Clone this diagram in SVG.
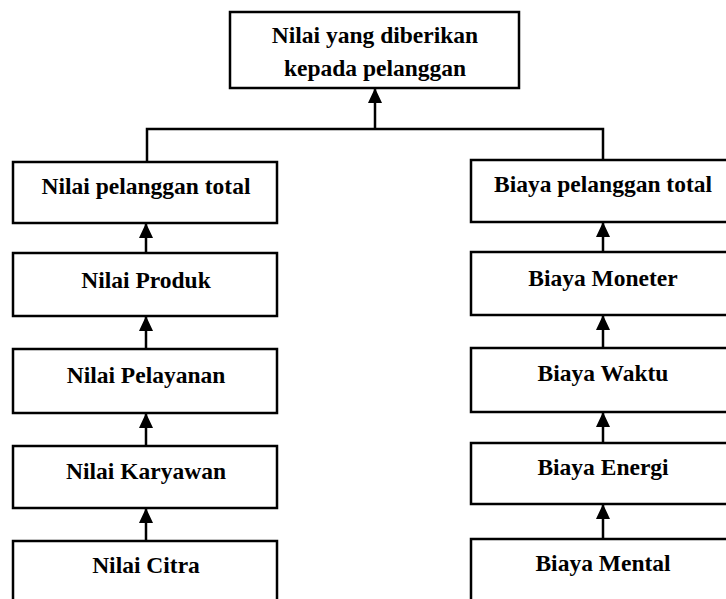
<svg xmlns="http://www.w3.org/2000/svg" width="726" height="599" viewBox="0 0 726 599">
  <style>
    .box { fill: #ffffff; stroke: #000000; stroke-width: 2.5; }
    .lbl { font-family: "Liberation Serif", "Times New Roman", serif; font-weight: bold; font-size: 23.5px; fill: #000000; text-anchor: middle; }
    .link { fill: none; stroke: #000000; stroke-width: 2.5; }
  </style>
  <defs>
    <!-- filled triangular arrowhead, tip at the end of the line -->
    <marker id="head" viewBox="0 0 15 14" refX="14" refY="7" markerWidth="15" markerHeight="14" markerUnits="userSpaceOnUse" orient="auto">
      <path d="M0,0 L15,7 L0,14 Z" fill="#000000"/>
    </marker>
  </defs>
  <rect width="726" height="599" fill="#ffffff"/>

  <!-- root -->
  <g id="nilai-diberikan">
    <rect class="box" x="230" y="12" width="289" height="76"/>
    <text class="lbl" x="375" y="43">Nilai yang diberikan</text>
    <text class="lbl" x="375" y="76">kepada pelanggan</text>
  </g>

  <!-- left column: value -->
  <g id="nilai-pelanggan-total">
    <rect class="box" x="13" y="162" width="264" height="61"/>
    <text class="lbl" x="146" y="194">Nilai pelanggan total</text>
  </g>
  <g id="nilai-produk">
    <rect class="box" x="13" y="253" width="264" height="63"/>
    <text class="lbl" x="146" y="288">Nilai Produk</text>
  </g>
  <g id="nilai-pelayanan">
    <rect class="box" x="13" y="349" width="264" height="64"/>
    <text class="lbl" x="146" y="383">Nilai Pelayanan</text>
  </g>
  <g id="nilai-karyawan">
    <rect class="box" x="13" y="446" width="264" height="62"/>
    <text class="lbl" x="146" y="479">Nilai Karyawan</text>
  </g>
  <g id="nilai-citra">
    <rect class="box" x="13" y="541" width="264" height="80"/>
    <text class="lbl" x="146" y="573">Nilai Citra</text>
  </g>

  <!-- right column: cost -->
  <g id="biaya-pelanggan-total">
    <rect class="box" x="471" y="160" width="264" height="62"/>
    <text class="lbl" x="603" y="192">Biaya pelanggan total</text>
  </g>
  <g id="biaya-moneter">
    <rect class="box" x="471" y="252" width="264" height="63"/>
    <text class="lbl" x="603" y="286">Biaya Moneter</text>
  </g>
  <g id="biaya-waktu">
    <rect class="box" x="471" y="348" width="264" height="64"/>
    <text class="lbl" x="603" y="381">Biaya Waktu</text>
  </g>
  <g id="biaya-energi">
    <rect class="box" x="471" y="443" width="264" height="61"/>
    <text class="lbl" x="603" y="475">Biaya Energi</text>
  </g>
  <g id="biaya-mental">
    <rect class="box" x="471" y="539" width="264" height="80"/>
    <text class="lbl" x="603" y="571">Biaya Mental</text>
  </g>

  <!-- connectors -->
  <g id="connectors">
    <path class="link" d="M147,162 V129 H603 V160"/>
    <path class="link" d="M375,129 V89" marker-end="url(#head)"/>
    <path class="link" d="M146,253 V224" marker-end="url(#head)"/>
    <path class="link" d="M146,349 V317" marker-end="url(#head)"/>
    <path class="link" d="M146,446 V414" marker-end="url(#head)"/>
    <path class="link" d="M146,541 V509" marker-end="url(#head)"/>
    <path class="link" d="M603,252 V223" marker-end="url(#head)"/>
    <path class="link" d="M603,348 V316" marker-end="url(#head)"/>
    <path class="link" d="M603,443 V413" marker-end="url(#head)"/>
    <path class="link" d="M603,539 V505" marker-end="url(#head)"/>
  </g>
</svg>
